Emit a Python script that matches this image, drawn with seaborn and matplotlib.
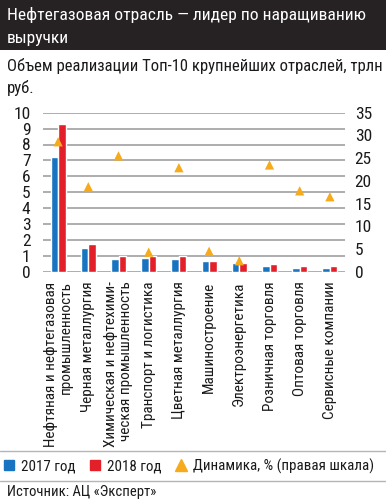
import matplotlib
matplotlib.use("Agg")
import matplotlib.pyplot as plt
from matplotlib.lines import Line2D
from matplotlib.patches import Rectangle
import seaborn as sns
import pandas as pd
import numpy as np

sns.set_style("white")
plt.rcParams['font.family'] = ['Roboto Condensed', 'DejaVu Sans']

categories = [
    "Нефтяная и нефтегазовая\nпромышленность",
    "Черная металлургия",
    "Химическая и нефтехими-\nческая промышленность",
    "Транспорт и логистика",
    "Цветная металлургия",
    "Машиностроение",
    "Электроэнергетика",
    "Розничная торговля",
    "Оптовая торговля",
    "Сервисные компании",
]
revenue_2017 = [7.23, 1.47, 0.80, 0.88, 0.80, 0.69, 0.53, 0.36, 0.25, 0.25]
revenue_2018 = [9.27, 1.74, 1.00, 1.00, 1.00, 0.69, 0.53, 0.46, 0.36, 0.36]
dynamics = [28.6, 18.7, 25.5, 4.3, 22.9, 4.5, 2.4, 23.5, 17.8, 16.5]
years = ["2017 год", "2018 год"]

blue = "#1874c1"
red = "#e3202a"
orange = "#f6ab1c"
grid_gray = "#a0a0a0"
text_col = "#1a1a1a"

df = pd.DataFrame({
    "cat": categories * 2,
    "value": revenue_2017 + revenue_2018,
    "year": [years[0]] * 10 + [years[1]] * 10,
})

fig = plt.figure(figsize=(3.86, 5.0), dpi=100)
ax = fig.add_axes([43 / 386, 1 - 271.7 / 500, (345 - 43) / 386, (271.7 - 112.7) / 500])

sns.barplot(data=df, x="cat", y="value", hue="year", palette=[blue, red],
            width=0.5, saturation=1, ax=ax, legend=False, zorder=3)
ax.set_ylim(0, 10)
ax.set_xlim(-0.5, len(categories) - 0.5)
ax.set_yticks(range(0, 11))
ax.yaxis.grid(True, color=grid_gray, lw=1.2, zorder=0)
ax.set_axisbelow(True)
ax.set_xlabel("")
ax.set_ylabel("")
for s in ax.spines.values():
    s.set_visible(False)
ax.tick_params(axis="both", length=0, labelcolor=text_col)
ax.tick_params(axis="y", labelsize=12.5, pad=9)
ax.set_xticks(range(len(categories)))
ax.set_xticklabels(categories, rotation=90, fontsize=11, va="top", ha="center",
                   multialignment="right", linespacing=1.05)
ax.tick_params(axis="x", pad=7)

ax2 = ax.twinx()
sns.scatterplot(x=np.arange(len(categories)), y=dynamics, ax=ax2, marker="^",
                s=45, color=orange, edgecolor="none", zorder=4)
ax2.set_ylim(0, 35)
ax2.set_yticks(range(0, 36, 5))
for s in ax2.spines.values():
    s.set_visible(False)
ax2.tick_params(axis="y", length=0, labelsize=12.5, pad=7, labelcolor=text_col)
ax2.grid(False)

# title band
fig.add_artist(Rectangle((0, 1 - 50 / 500), 1, 50 / 500, transform=fig.transFigure,
                         facecolor="#262223", edgecolor="none", zorder=0))
fig.text(7 / 386, 1 - 15 / 500, "Нефтегазовая отрасль — лидер по наращиванию",
         color="white", fontsize=12.6, va="center", ha="left")
fig.text(7 / 386, 1 - 38 / 500, "выручки", color="white", fontsize=12.6,
         va="center", ha="left")
fig.text(7 / 386, 1 - 66 / 500, "Объем реализации Топ-10 крупнейших отраслей, трлн",
         color=text_col, fontsize=12, va="center", ha="left")
fig.text(7 / 386, 1 - 88 / 500, "руб.", color=text_col, fontsize=12,
         va="center", ha="left")

# bottom band covering overflowing labels
fig.add_artist(Rectangle((0, 0), 1, 1 - 451 / 500, transform=fig.transFigure,
                         facecolor="white", edgecolor="none", zorder=5))
for yp in (451, 481):
    fig.add_artist(Line2D([0, 1], [1 - yp / 500] * 2, transform=fig.transFigure,
                          color="#b5b5b5", lw=1, zorder=6))

handles = [
    Line2D([], [], marker="s", linestyle="none", color=blue, markersize=7),
    Line2D([], [], marker="s", linestyle="none", color=red, markersize=7),
    Line2D([], [], marker="^", linestyle="none", color=orange, markersize=8),
]
leg = fig.legend(handles, years + ["Динамика, % (правая шкала)"], ncol=3,
                 loc="center left", bbox_to_anchor=(0, 1 - 466 / 500),
                 frameon=False, fontsize=10.8, handlelength=0.8, handletextpad=0.4,
                 columnspacing=0.9, borderaxespad=0, borderpad=0.2)
for t in leg.get_texts():
    t.set_color(text_col)
leg.set_zorder(7)

t = fig.text(7 / 386, 1 - 492 / 500, "Источник: АЦ «Эксперт»", color=text_col,
             fontsize=10.5, va="center", ha="left")
t.set_zorder(7)

fig.savefig("out.png", dpi=100)
